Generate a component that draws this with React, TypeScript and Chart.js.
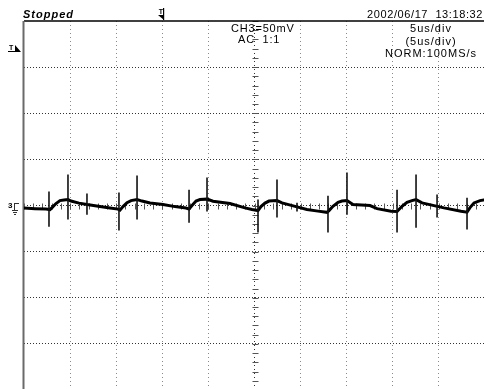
import React, { useEffect, useRef } from 'react';
import { Chart, registerables } from 'chart.js';

Chart.register(...registerables);

// ---- data (time in µs, voltage in mV) ----
const TRACE_US = [
  0, 1.19, 2.39, 2.82, 3.04, 3.47, 3.9, 4.34, 4.77, 5.1, 5.97, 6.83, 8.24, 9.33, 10.2, 10.41,
  10.74, 11.17, 11.61, 12.26, 12.8, 13.67, 15.07, 16.38, 17.57, 17.9, 18.22, 18.66, 19.09, 19.85,
  20.5, 22.34, 23.97, 24.73, 25.38, 25.7, 26.14, 26.57, 27.44, 27.98, 29.61, 30.69, 31.89, 32.86,
  33.08, 33.51, 34.06, 34.49, 35.03, 35.68, 37.53, 38.29, 39.81, 40.46, 41.0, 41.54, 42.08, 42.52,
  43.17, 44.47, 45.55, 47.4, 48.05, 48.37, 48.81, 49.46, 50.11,
];
const TRACE_MV = [
  -2.8, -3.4, -3.9, -4.4, -2.3, 2.1, 5.3, 5.9, 6.4, 4.8, 2.6, 1.0, -1.2, -2.8, -3.9, -5.0,
  -1.2, 3.1, 5.3, 6.4, 4.8, 2.8, 1.0, -1.2, -2.8, -3.9, -0.1, 4.8, 6.4, 6.9,
  4.6, 2.1, -2.6, -4.4, -5.5, -1.2, 2.6, 4.8, 5.3, 2.8, -1.5, -4.4, -6.1, -7.4,
  -5.5, -0.9, 3.5, 4.8, 5.3, 1.0, -0.1, -3.4, -6.3, -6.6, -0.9, 3.5, 5.3, 6.4,
  2.8, -0.1, -2.6, -6.3, -7.2, -2.3, 2.8, 5.3, 6.4,
];
const SPIKE_US = [2.71, 4.77, 6.83, 10.3, 12.26, 17.9, 19.85, 25.38, 27.44, 29.61, 32.97, 35.03, 40.46, 42.52, 44.8, 48.05];
const SPIKE_TOP_MV = [15.1, 33.5, 12.9, 14.0, 32.4, 17.2, 30.3, 6.4, 28.1, 3.1, 10.7, 35.7, 17.2, 33.5, 11.8, 8.3];
const SPIKE_BOTTOM_MV = [-22.9, -15.3, -9.9, -27.2, -15.3, -18.6, -6.6, -29.3, -13.1, -6.6, -29.3, -9.9, -29.3, -24.0, -13.1, -26.1];

const X_TICKS_US = [0, 5, 10, 15, 20, 25, 30, 35, 40, 45, 50];
const Y_TICKS_MV = [-200, -150, -100, -50, 0, 50, 100, 150, 200];
const X_MIN = 0, X_MAX = 50, Y_MIN = -200, Y_MAX = 200;
const X_CENTER = 25, Y_CENTER = 0;
const X_MINOR_STEP = 1, Y_MINOR_STEP = 10;

const STATUS_TEXT = 'Stopped';
const DATE_TEXT = '2002/06/17  13:18:32';
const CHANNEL_LINES = ['CH3=50mV', 'AC  1:1'];
const TIMEBASE_LINES = ['5us/div', '(5us/div)', 'NORM:100MS/s'];
const TRIGGER_POS_US = 15;
const TRIGGER_LEVEL_MV = 170;
const CHANNEL_LABEL = '3';

const FONT = '"Liberation Sans", Arial, sans-serif';

const scopePlugin = {
  id: 'scope',
  beforeDatasetsDraw(chart: any) {
    const { ctx, chartArea, scales } = chart;
    const xs = scales.x, ys = scales.y;
    const cx = Math.round(xs.getPixelForValue(X_CENTER)) + 0.5;
    const cy = Math.round(ys.getPixelForValue(Y_CENTER)) + 0.5;
    ctx.save();
    ctx.strokeStyle = '#555';
    ctx.lineWidth = 1;
    for (let v = Y_MIN; v <= Y_MAX; v += Y_MINOR_STEP) {
      const y = Math.round(ys.getPixelForValue(v)) + 0.5;
      ctx.beginPath();
      ctx.moveTo(cx - 3, y);
      ctx.lineTo(cx + 3, y);
      ctx.stroke();
    }
    for (let v = X_MIN; v <= X_MAX; v += X_MINOR_STEP) {
      const x = Math.round(xs.getPixelForValue(v)) + 0.5;
      ctx.beginPath();
      ctx.moveTo(x, cy - 3);
      ctx.lineTo(x, cy + 3);
      ctx.stroke();
    }
    // borders
    ctx.strokeStyle = '#000';
    ctx.lineWidth = 1.5;
    ctx.beginPath();
    ctx.moveTo(chartArea.left, chartArea.top);
    ctx.lineTo(chartArea.right, chartArea.top);
    ctx.stroke();
    ctx.strokeStyle = '#6a6a6a';
    ctx.lineWidth = 2;
    ctx.beginPath();
    ctx.moveTo(chartArea.left - 0.5, chartArea.top);
    ctx.lineTo(chartArea.left - 0.5, chartArea.bottom);
    ctx.stroke();
    ctx.restore();
  },
  afterDraw(chart: any) {
    const { ctx, scales } = chart;
    const xs = scales.x, ys = scales.y;
    ctx.save();
    ctx.fillStyle = '#000';
    ctx.textBaseline = 'alphabetic';
    (ctx as any).letterSpacing = '1px';
    ctx.font = `italic bold 11px ${FONT}`;
    ctx.textAlign = 'left';
    ctx.fillText(STATUS_TEXT, 23, 18);
    ctx.font = `11px ${FONT}`;
    (ctx as any).letterSpacing = '0.6px';
    ctx.textAlign = 'right';
    ctx.fillText(DATE_TEXT, 483, 18);
    ctx.textAlign = 'left';
    (ctx as any).letterSpacing = '0.8px';
    ctx.fillText(CHANNEL_LINES[0], 231, 32);
    ctx.fillText(CHANNEL_LINES[1], 238, 43);
    ctx.textAlign = 'center';
    (ctx as any).letterSpacing = '1px';
    TIMEBASE_LINES.forEach((t, i) => ctx.fillText(t, 431, 32 + i * 12.5));
    (ctx as any).letterSpacing = '0px';

    // trigger position marker (top)
    const tx = Math.round(xs.getPixelForValue(TRIGGER_POS_US));
    ctx.font = `bold 7px ${FONT}`;
    ctx.textAlign = 'center';
    ctx.fillText('T', tx - 1, 14);
    ctx.beginPath();
    ctx.moveTo(tx - 4, 15);
    ctx.lineTo(tx + 2, 15);
    ctx.lineTo(tx + 2, 20);
    ctx.closePath();
    ctx.fill();
    ctx.fillRect(tx + 1, 8, 1.2, 12);

    // trigger level marker (left)
    const ty = Math.round(ys.getPixelForValue(TRIGGER_LEVEL_MV));
    ctx.font = `bold 7px ${FONT}`;
    ctx.textAlign = 'left';
    ctx.fillText('T', 9, ty + 1);
    ctx.fillRect(8, ty + 2, 8, 1);
    ctx.beginPath();
    ctx.moveTo(15, ty - 4);
    ctx.lineTo(21, ty + 3);
    ctx.lineTo(15, ty + 3);
    ctx.closePath();
    ctx.fill();

    // channel ground marker
    const gy = Math.round(ys.getPixelForValue(0));
    ctx.font = `bold 8px ${FONT}`;
    ctx.fillText(CHANNEL_LABEL, 8, gy + 2);
    ctx.fillStyle = '#333';
    ctx.fillRect(14, gy - 3, 1, 8);
    ctx.fillRect(14, gy - 3, 5, 1);
    ctx.fillRect(12, gy + 4, 6, 1);
    ctx.fillRect(13, gy + 6, 4, 1);
    ctx.fillRect(14, gy + 8, 2, 1);
    ctx.restore();
  },
};

export default function App() {
  const ref = useRef<HTMLCanvasElement | null>(null);
  useEffect(() => {
    if (!ref.current) return;
    const trace = TRACE_US.map((x, i) => ({ x, y: TRACE_MV[i] }));
    const spikes: any[] = [];
    SPIKE_US.forEach((x, i) => {
      spikes.push({ x, y: SPIKE_TOP_MV[i] });
      spikes.push({ x, y: SPIKE_BOTTOM_MV[i] });
      spikes.push({ x, y: null });
    });
    const chart = new Chart(ref.current, {
      type: 'line',
      data: {
        datasets: [
          {
            label: 'spikes',
            data: spikes,
            borderColor: '#111',
            borderWidth: 1.6,
            pointRadius: 0,
            spanGaps: false,
            tension: 0,
          },
          {
            label: 'CH3',
            data: trace,
            borderColor: '#000',
            borderWidth: 3,
            pointRadius: 0,
            tension: 0,
          },
        ],
      },
      options: {
        animation: false,
        responsive: false,
        devicePixelRatio: 1,
        parsing: false as any,
        layout: { padding: { left: 24, top: 21, right: 0, bottom: 0 } },
        plugins: { legend: { display: false }, tooltip: { enabled: false } },
        scales: {
          x: {
            type: 'linear',
            min: X_MIN,
            max: X_MAX,
            afterBuildTicks: (s: any) => {
              s.ticks = X_TICKS_US.map((v) => ({ value: v }));
            },
            ticks: { display: false },
            grid: {
              drawTicks: false,
              color: (c: any) => (c.tick && (c.tick.value === X_MIN || c.tick.value === X_MAX) ? 'rgba(0,0,0,0)' : c.tick && c.tick.value === X_CENTER ? '#333' : '#8a8a8a'),
              lineWidth: 1,
            },
            border: { display: false, dash: [1, 3] },
          },
          y: {
            type: 'linear',
            min: Y_MIN,
            max: Y_MAX,
            afterBuildTicks: (s: any) => {
              s.ticks = Y_TICKS_MV.map((v) => ({ value: v }));
            },
            ticks: { display: false },
            grid: {
              drawTicks: false,
              color: (c: any) => (c.tick && (c.tick.value === Y_MAX || c.tick.value === Y_MIN) ? 'rgba(0,0,0,0)' : '#333'),
              lineWidth: 1,
            },
            border: { display: false, dash: [1, 2] },
          },
        },
      },
      plugins: [scopePlugin],
    });
    return () => chart.destroy();
  }, []);
  return (
    <div style={{ position: 'fixed', left: 0, top: 0, width: 484, height: 389, overflow: 'hidden', background: '#fff' }}>
      <canvas ref={ref} width={485} height={390} style={{ display: 'block' }} />
    </div>
  );
}
